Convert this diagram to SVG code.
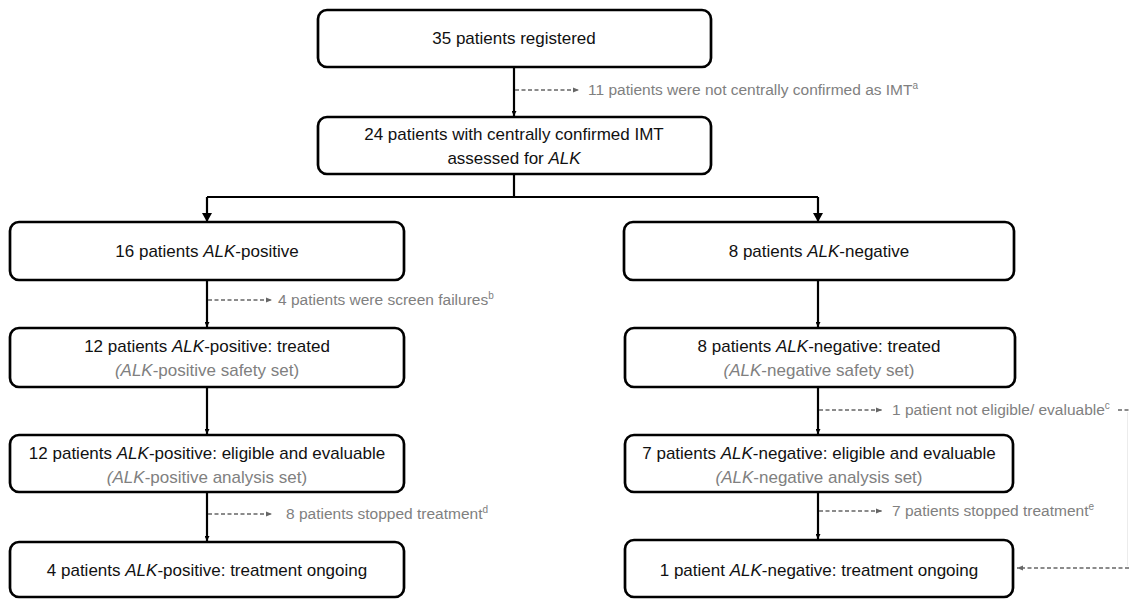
<svg xmlns="http://www.w3.org/2000/svg" width="1129" height="599" viewBox="0 0 1129 599">
<style>
.box{fill:#fff;stroke:#000;stroke-width:2.7}
.t{font-family:"Liberation Sans",Arial,sans-serif;font-size:17px;fill:#111;text-anchor:middle}
.s{fill:#808080}
.g{font-family:"Liberation Sans",Arial,sans-serif;font-size:15.5px;fill:#808080}
.c{fill:none;stroke:#000;stroke-width:2.2}
.d{fill:none;stroke:#666;stroke-width:1.3;stroke-dasharray:4,2.5}
</style>
<defs>
<marker id="ah" viewBox="0 0 10 10" refX="10" refY="5" markerWidth="5" markerHeight="5" orient="auto" markerUnits="userSpaceOnUse"><path d="M0,0L10,5L0,10Z" fill="#000"/></marker>
<marker id="ah2" viewBox="0 0 10 10" refX="10" refY="5" markerWidth="7" markerHeight="6" orient="auto" markerUnits="userSpaceOnUse"><path d="M0,1L10,5L0,9Z" fill="#666"/></marker>
</defs>
<g id="connectors">
<path class="c" d="M514,67V116" marker-end="url(#ah)"/>
<path class="c" d="M514,174V197M207,197H818M207,197V221M818,197V221"/>
<path d="M202,213L212,213L207,222Z M813,213L823,213L818,222Z"/>
<path class="c" d="M207,280V327" marker-end="url(#ah)"/>
<path class="c" d="M818,280V327" marker-end="url(#ah)"/>
<path class="c" d="M207,387V434" marker-end="url(#ah)"/>
<path class="c" d="M818,387V434" marker-end="url(#ah)"/>
<path class="c" d="M207,492V541" marker-end="url(#ah)"/>
<path class="c" d="M818,492V539" marker-end="url(#ah)"/>
<path class="d" d="M515,90H579" marker-end="url(#ah2)"/>
<path class="d" d="M208,300H272" marker-end="url(#ah2)"/>
<path class="d" d="M819,410H882" marker-end="url(#ah2)"/>
<path class="d" d="M1118,410H1129"/>
<path d="M1127.5,412V566" stroke="#ececec" stroke-width="1" fill="none"/>
<path class="d" d="M208,514H272" marker-end="url(#ah2)"/>
<path class="d" d="M819,511H882" marker-end="url(#ah2)"/>
<path class="d" d="M1129,568H1017" marker-end="url(#ah2)"/>
</g>
<g id="n1"><rect class="box" x="318" y="10" width="393" height="57" rx="9"/><text class="t" x="514" y="44">35 patients registered</text></g>
<g id="n2"><rect class="box" x="318" y="117" width="393" height="57" rx="9"/><text class="t" x="514" y="140">24 patients with centrally confirmed IMT</text><text class="t" x="514" y="164">assessed for <tspan font-style="italic">ALK</tspan></text></g>
<g id="n3"><rect class="box" x="10" y="222" width="394" height="58" rx="9"/><text class="t" x="207" y="257">16 patients <tspan font-style="italic">ALK</tspan>-positive</text></g>
<g id="n4"><rect class="box" x="624" y="222" width="390" height="58" rx="9"/><text class="t" x="819" y="257">8 patients <tspan font-style="italic">ALK</tspan>-negative</text></g>
<g id="n5"><rect class="box" x="10" y="328" width="394" height="59" rx="9"/><text class="t" x="207" y="352">12 patients <tspan font-style="italic">ALK</tspan>-positive: treated</text><text class="t s" x="207" y="376"><tspan font-style="italic">(ALK</tspan>-positive  safety  set)</text></g>
<g id="n6"><rect class="box" x="625" y="328" width="390" height="59" rx="9"/><text class="t" x="819" y="352">8 patients <tspan font-style="italic">ALK</tspan>-negative: treated</text><text class="t s" x="819" y="376"><tspan font-style="italic">(ALK</tspan>-negative  safety  set)</text></g>
<g id="n7"><rect class="box" x="10" y="435" width="394" height="57" rx="9"/><text class="t" x="207" y="459">12 patients <tspan font-style="italic">ALK</tspan>-positive: eligible and evaluable</text><text class="t s" x="207" y="483"><tspan font-style="italic">(ALK</tspan>-positive  analysis set)</text></g>
<g id="n8"><rect class="box" x="625" y="435" width="388" height="57" rx="9"/><text class="t" x="819" y="459">7 patients <tspan font-style="italic">ALK</tspan>-negative: eligible and evaluable</text><text class="t s" x="819" y="483"><tspan font-style="italic">(ALK</tspan>-negative  analysis set)</text></g>
<g id="n9"><rect class="box" x="10" y="542" width="394" height="55" rx="9"/><text class="t" x="207" y="576">4 patients <tspan font-style="italic">ALK</tspan>-positive: treatment ongoing</text></g>
<g id="n10"><rect class="box" x="625" y="540" width="388" height="57" rx="9"/><text class="t" x="819" y="576">1 patient <tspan font-style="italic">ALK</tspan>-negative: treatment ongoing</text></g>
<g id="labels">
<text class="g" x="588" y="95">11 patients were not centrally confirmed as IMT<tspan font-size="10" dy="-6">a</tspan></text>
<text class="g" x="278" y="305">4 patients were screen failures<tspan font-size="10" dy="-6">b</tspan></text>
<text class="g" x="892" y="415">1 patient not eligible/ evaluable<tspan font-size="10" dy="-6">c</tspan></text>
<text class="g" x="286" y="519">8 patients stopped treatment<tspan font-size="10" dy="-6">d</tspan></text>
<text class="g" x="892" y="516">7 patients stopped treatment<tspan font-size="10" dy="-6">e</tspan></text>
</g>
</svg>
